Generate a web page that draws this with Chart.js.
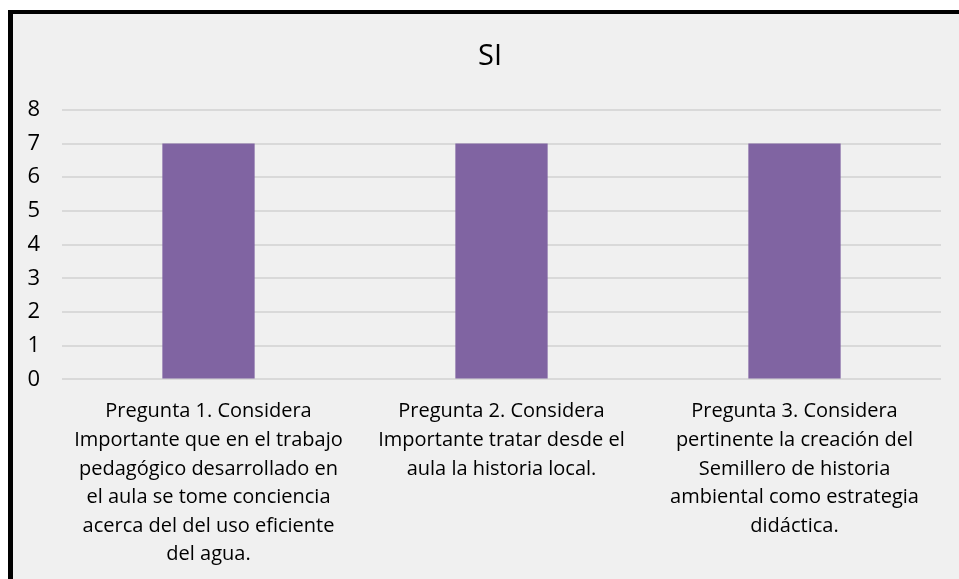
<!DOCTYPE html>
<html>
<head>
<meta charset="utf-8">
<script src="https://cdn.jsdelivr.net/npm/chart.js@4"></script>
<style>
    html, body { margin: 0; padding: 0; background: #ffffff; }
    #frame {
        position: absolute;
        left: 8px;
        top: 10px;
        width: 946px;
        height: 569px;
        border-left: 5px solid #000;
        border-top: 4px solid #000;
        background: #f0f0f0;
    }
    #wrap { position: relative; width: 946px; height: 565px; }
</style>
</head>
<body>
<div id="frame"><div id="wrap"><canvas id="siChart"></canvas></div></div>
<script>
// chart data
const chartTitle = "SI";
const categories = [
    ["Pregunta 1. Considera", "Importante que en el trabajo", "pedagógico desarrollado en", "el aula se tome conciencia", "acerca del del uso eficiente", "del agua."],
    ["Pregunta 2. Considera", "Importante tratar desde el", "aula la historia local."],
    ["Pregunta 3. Considera", "pertinente la creación del", "Semillero de historia", "ambiental como estrategia", "didáctica."]
];
const siValues = [7, 7, 7];
const yTicks = [0, 1, 2, 3, 4, 5, 6, 7, 8];

const fontFamily = "'Open Sans', sans-serif";

const ctx = document.getElementById("siChart").getContext("2d");
new Chart(ctx, {
    type: "bar",
    data: {
        labels: categories,
        datasets: [
            {
                label: chartTitle,
                data: siValues,
                backgroundColor: "#8064a2",
                categoryPercentage: 1,
                barPercentage: 0.315
            }
        ]
    },
    options: {
        responsive: true,
        maintainAspectRatio: false,
        animation: false,
        layout: { padding: { left: 12, right: 4, top: 15, bottom: 0 } },
        plugins: {
            legend: { display: false },
            tooltip: { enabled: false },
            title: {
                display: true,
                text: chartTitle,
                color: "#000",
                font: { family: fontFamily, size: 29, weight: "normal" },
                padding: { top: 10, bottom: 36 }
            }
        },
        scales: {
            x: {
                grid: { display: false },
                border: { display: false },
                ticks: {
                    color: "#000",
                    font: { family: fontFamily, size: 20, lineHeight: 1.43 },
                    maxRotation: 0,
                    autoSkip: false,
                    padding: 10
                }
            },
            y: {
                min: 0,
                max: 8,
                afterBuildTicks: (axis) => {
                    axis.ticks = yTicks.map(v => ({ value: v }));
                },
                afterFit: (axis) => {
                    axis.width = 37;
                },
                grid: { color: "#d9d9d9", lineWidth: 2, drawTicks: false },
                border: { display: false },
                ticks: {
                    color: "#000",
                    font: { family: fontFamily, size: 22 },
                    padding: 22
                }
            },
            // empty spacer on the right so the plot ends where the original does
            yRight: {
                position: "right",
                afterFit: (axis) => {
                    axis.width = 14;
                },
                grid: { display: false },
                border: { display: false },
                ticks: { display: false }
            }
        }
    }
});
</script>
</body>
</html>
